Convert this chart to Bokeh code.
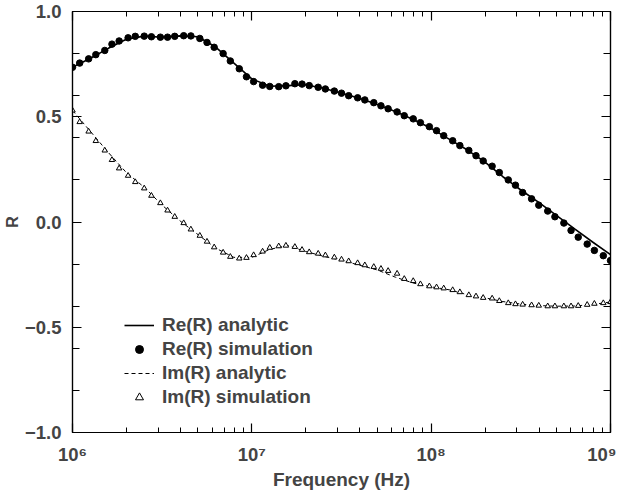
from bokeh.plotting import figure
from bokeh.models import (LogAxis, LinearAxis, FixedTicker, LogTicker, CustomJSTickFormatter,
                          Legend, LegendItem, ColumnDataSource, Range1d)
from bokeh.embed import file_html
from bokeh.resources import INLINE

# Simulation frequency grid (log10 of Hz)
sim_exp = [6.00, 6.04, 6.09, 6.13, 6.18, 6.22, 6.26, 6.31, 6.35, 6.40, 6.44, 6.49, 6.53, 6.57,
           6.62, 6.66, 6.71, 6.75, 6.79, 6.84, 6.88, 6.93, 6.97, 7.01, 7.06, 7.10, 7.15, 7.19,
           7.24, 7.28, 7.32, 7.37, 7.41, 7.46, 7.50, 7.54, 7.59, 7.63, 7.68, 7.72, 7.76, 7.81,
           7.85, 7.90, 7.94, 7.99, 8.03, 8.07, 8.12, 8.16, 8.21, 8.25, 8.29, 8.34, 8.38, 8.43,
           8.47, 8.51, 8.56, 8.60, 8.65, 8.69, 8.74, 8.78, 8.82, 8.87, 8.91, 8.96, 9.00]
re_sim = [0.735, 0.755, 0.775, 0.795, 0.815, 0.845, 0.860, 0.875, 0.882, 0.883, 0.880, 0.878,
          0.878, 0.882, 0.885, 0.884, 0.872, 0.853, 0.830, 0.800, 0.765, 0.728, 0.690, 0.667,
          0.650, 0.644, 0.643, 0.647, 0.657, 0.655, 0.648, 0.640, 0.632, 0.622, 0.612, 0.600,
          0.590, 0.580, 0.567, 0.552, 0.538, 0.523, 0.505, 0.490, 0.472, 0.453, 0.434, 0.410,
          0.386, 0.363, 0.340, 0.315, 0.290, 0.265, 0.235, 0.200, 0.175, 0.140, 0.110, 0.080,
          0.052, 0.025, -0.005, -0.040, -0.072, -0.105, -0.135, -0.160, -0.183]
im_sim = [0.530, 0.475, 0.430, 0.385, 0.340, 0.295, 0.255, 0.220, 0.190, 0.160, 0.125, 0.090,
          0.055, 0.025, -0.005, -0.035, -0.065, -0.093, -0.120, -0.145, -0.165, -0.173, -0.170,
          -0.157, -0.140, -0.122, -0.115, -0.112, -0.118, -0.132, -0.143, -0.150, -0.158, -0.168,
          -0.178, -0.186, -0.195, -0.205, -0.213, -0.222, -0.232, -0.245, -0.270, -0.280, -0.295,
          -0.305, -0.310, -0.315, -0.323, -0.333, -0.347, -0.353, -0.360, -0.363, -0.375, -0.385,
          -0.390, -0.392, -0.395, -0.397, -0.400, -0.400, -0.400, -0.400, -0.398, -0.393, -0.388,
          -0.385, -0.380]

# Analytic curves (log10 of Hz)
ana_exp = [6.0, 6.1, 6.2, 6.3, 6.4, 6.5, 6.6, 6.7, 6.8, 6.9, 7.0, 7.1, 7.2, 7.3, 7.4, 7.5,
           7.6, 7.7, 7.8, 7.9, 8.0, 8.1, 8.2, 8.3, 8.4, 8.5, 8.6, 8.7, 8.8, 8.9, 9.0]
re_ana = [0.735, 0.778, 0.825, 0.868, 0.883, 0.878, 0.884, 0.880, 0.830, 0.755, 0.680, 0.645,
          0.648, 0.652, 0.635, 0.612, 0.588, 0.558, 0.525, 0.487, 0.445, 0.394, 0.343, 0.285,
          0.215, 0.152, 0.093, 0.030, -0.033, -0.095, -0.155]
im_ana = [0.530, 0.430, 0.330, 0.235, 0.165, 0.080, 0.005, -0.060, -0.125, -0.168, -0.168,
          -0.130, -0.112, -0.140, -0.163, -0.182, -0.205, -0.228, -0.262, -0.290, -0.308, -0.322,
          -0.345, -0.360, -0.378, -0.390, -0.397, -0.400, -0.399, -0.392, -0.380]

y_major = [-1.0, -0.5, 0.0, 0.5, 1.0]
y_minor = [-0.8, -0.6, -0.4, -0.2, 0.2, 0.4, 0.6, 0.8]

labels = ["Re(R) analytic", "Re(R) simulation", "Im(R) analytic", "Im(R) simulation"]

FONT = "Liberation Sans"

sim = ColumnDataSource(dict(f=[10 ** e for e in sim_exp], re=re_sim, im=im_sim))
ana = ColumnDataSource(dict(f=[10 ** e for e in ana_exp], re=re_ana, im=im_ana))

p = figure(x_axis_type="log", x_range=Range1d(1e6, 1e9), y_range=Range1d(-1.0, 1.0),
           frame_width=538, frame_height=421, output_backend="svg", toolbar_location=None,
           min_border_left=64, min_border_top=11, min_border_right=6, min_border_bottom=0,
           x_axis_label="Frequency (Hz)", y_axis_label="R")
p.grid.visible = False
p.outline_line_color = "black"
p.outline_line_width = 1.2
p.background_fill_color = "white"
p.border_fill_color = "white"

xfmt = CustomJSTickFormatter(code="""
const sup = {"0":"\u2070","1":"\u00b9","2":"\u00b2","3":"\u00b3","4":"\u2074","5":"\u2075",
             "6":"\u2076","7":"\u2077","8":"\u2078","9":"\u2079","-":"\u207b"};
const e = Math.round(Math.log10(tick));
return "10" + String(e).split("").map(c => sup[c]).join("");
""")
yfmt = CustomJSTickFormatter(code="""
return (tick < -1e-9 ? "\u2212" : "") + Math.abs(tick).toFixed(1);
""")
blank = CustomJSTickFormatter(code="return '';")

def style(ax):
    ax.axis_line_color = "black"
    ax.axis_line_width = 1.2
    ax.major_tick_in = 9
    ax.major_tick_out = 0
    ax.minor_tick_in = 5
    ax.minor_tick_out = 0
    ax.major_tick_line_color = "black"
    ax.minor_tick_line_color = "black"
    ax.major_tick_line_width = 1.2
    ax.minor_tick_line_width = 1

xa = p.xaxis[0]
xa.ticker = LogTicker(num_minor_ticks=10)
xa.formatter = xfmt
style(xa)
xa.major_label_text_font = FONT
xa.major_label_text_font_style = "bold"
xa.major_label_text_font_size = "18.5px"
xa.major_label_standoff = 11
xa.axis_label_text_font = FONT
xa.axis_label_text_font_style = "bold"
xa.axis_label_text_font_size = "19px"
xa.axis_label_standoff = 1

ya = p.yaxis[0]
ya.ticker = FixedTicker(ticks=y_major, minor_ticks=y_minor)
ya.formatter = yfmt
style(ya)
ya.minor_tick_in = 7
ya.major_label_text_font = FONT
ya.major_label_text_font_style = "bold"
ya.major_label_text_font_size = "18.5px"
ya.major_label_standoff = 11
ya.axis_label_text_font = FONT
ya.axis_label_text_font_style = "bold"
ya.axis_label_text_font_size = "16px"
ya.axis_label_standoff = 1

top = LogAxis(ticker=LogTicker(num_minor_ticks=10), formatter=blank,
              major_label_standoff=0, major_label_text_font_size="1px")
style(top)
p.add_layout(top, "above")
right = LinearAxis(ticker=FixedTicker(ticks=y_major, minor_ticks=y_minor), formatter=blank,
                   major_label_standoff=0, major_label_text_font_size="1px")
style(right)
right.minor_tick_in = 7
p.add_layout(right, "right")

r1 = p.line("f", "re", source=ana, line_color="black", line_width=1.6)
r2 = p.scatter("f", "re", source=sim, marker="circle", size=6.5, fill_color="black",
               line_color="black")
r3 = p.line("f", "im", source=ana, line_color="black", line_width=1.0, line_dash="4 3")
r4 = p.scatter("f", "im", source=sim, marker="triangle", size=5.5, fill_color="white",
               line_color="black", line_width=1.0)

legend = Legend(items=[LegendItem(label=labels[0], renderers=[r1]),
                       LegendItem(label=labels[1], renderers=[r2]),
                       LegendItem(label=labels[2], renderers=[r3]),
                       LegendItem(label=labels[3], renderers=[r4])],
                location=(52, 24), background_fill_alpha=0, border_line_alpha=0,
                label_text_font=FONT, label_text_font_style="bold", label_text_font_size="19px",
                glyph_width=30, glyph_height=20, label_standoff=8, spacing=2, padding=0,
                margin=0, label_height=20)
p.add_layout(legend, "center")

open("out.html", "w").write(file_html(p, INLINE))
